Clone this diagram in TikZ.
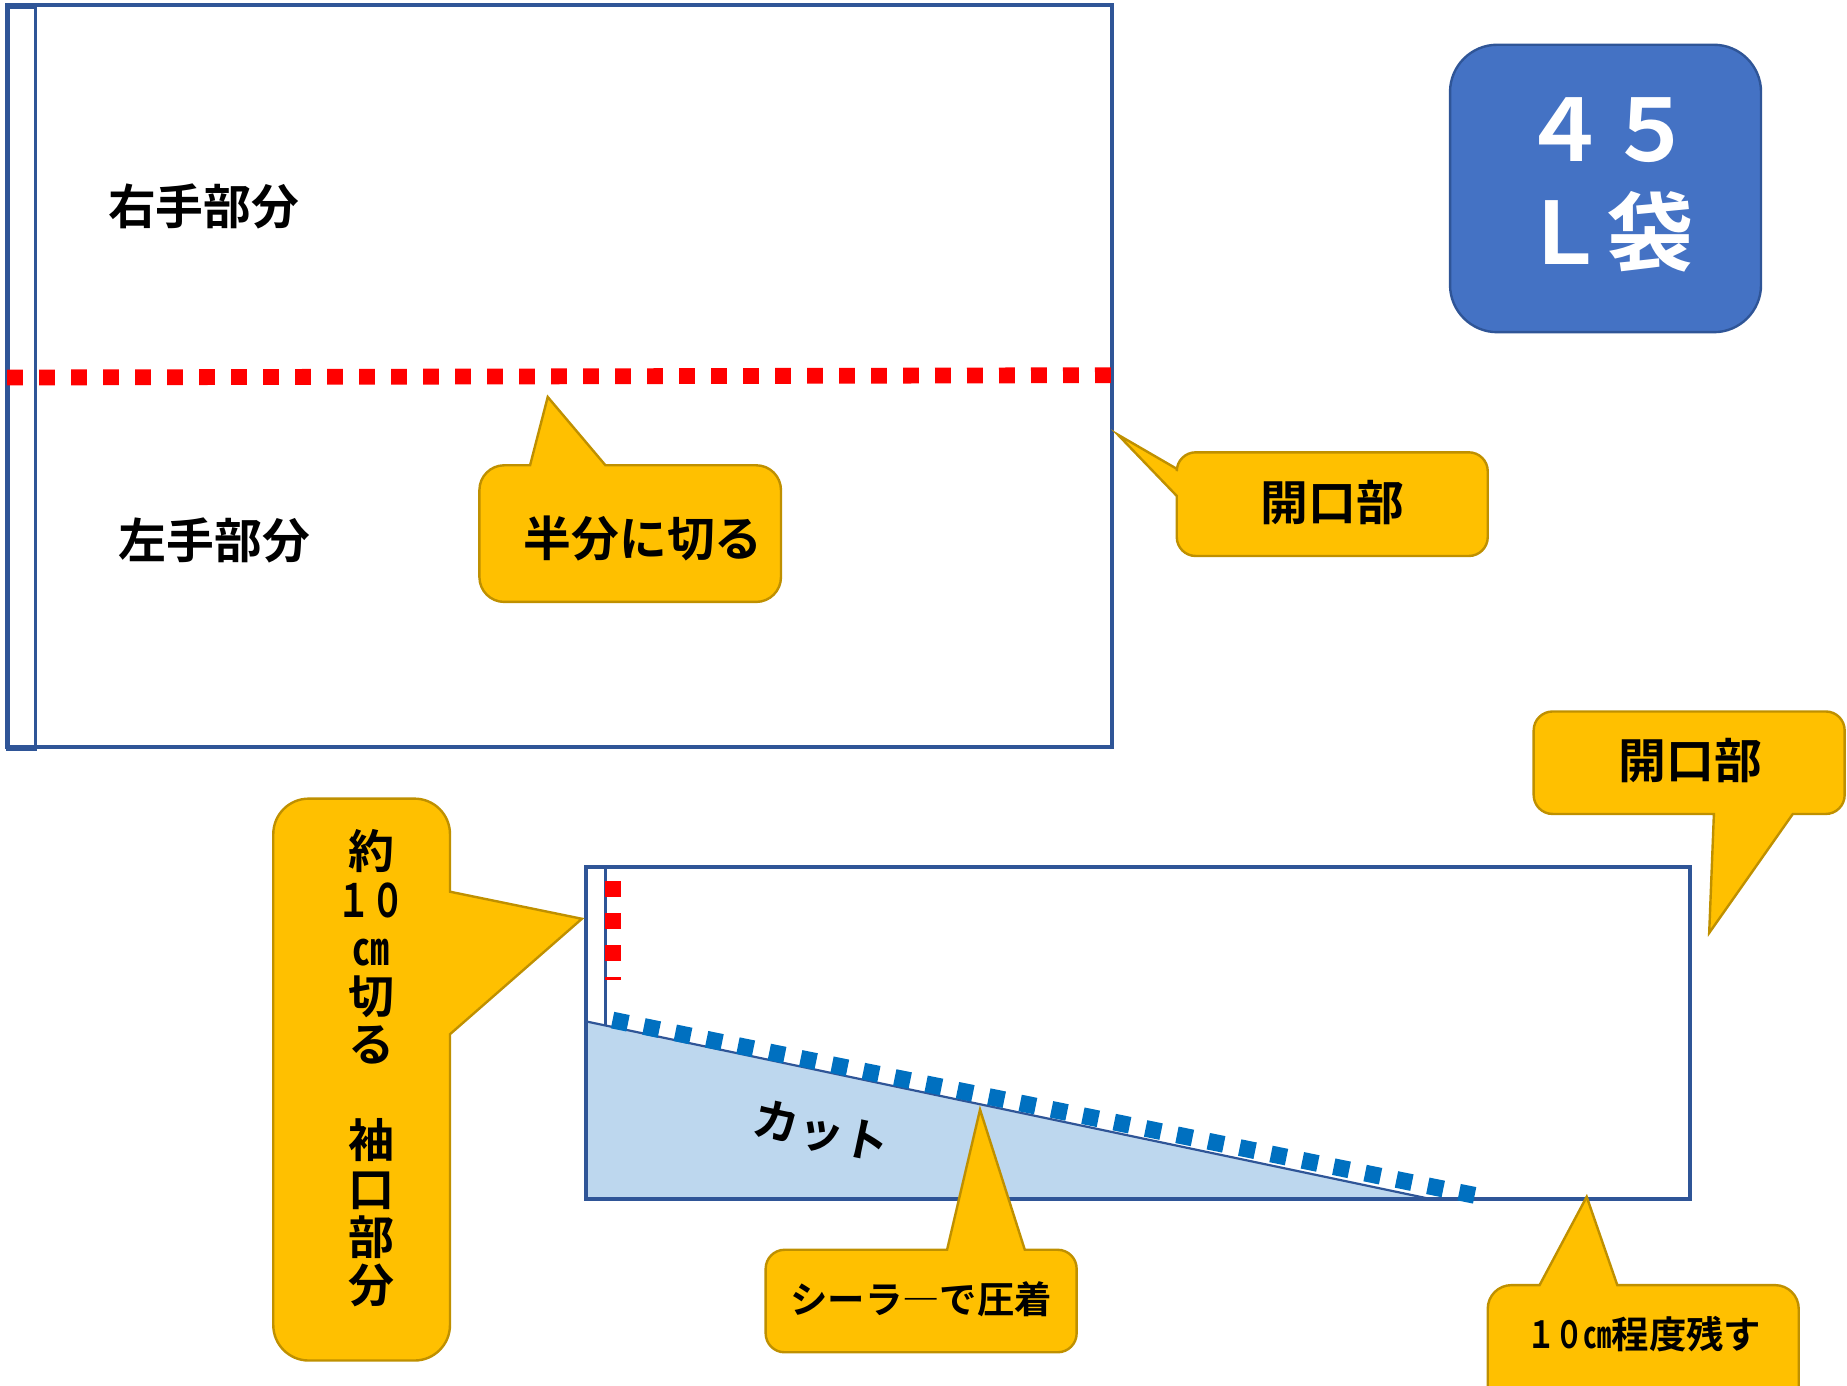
\documentclass[tikz,border=0pt]{standalone}
\usepackage{graphicx}
\usepackage{fontspec}
\newfontfamily\cjk{Noto Sans CJK JP}[BoldFont={Noto Sans CJK JP Bold}]
\definecolor{bagline}{HTML}{2F5597}
\definecolor{boxblue}{HTML}{4472C4}
\definecolor{cutfill}{HTML}{BDD7EE}
\definecolor{sealblue}{HTML}{0070C0}
\definecolor{callfill}{HTML}{FFC000}
\definecolor{callline}{HTML}{BF9000}
\tikzset{
  bagedge/.style={draw=bagline,line width=2.2pt},
  thinedge/.style={draw=bagline,line width=1.1pt},
  calloutshape/.style={fill=callfill,draw=callline,line width=1.2pt,line join=miter},
  cutdash/.style={draw=red,line width=7.9pt,dash pattern=on 7.9pt off 8.1pt},
  sealdash/.style={draw=sealblue,line width=8.4pt,dash pattern=on 7.9pt off 8.1pt},
  lab/.style={inner sep=0pt,font=\cjk\bfseries\fontsize{23.9}{28}\selectfont,text=black},
  smalllab/.style={inner sep=0pt,font=\cjk\bfseries\fontsize{18.7}{22}\selectfont,text=black},
}
% x1 y1 x2 y2 r top right bottom left (each side: extra path pieces, clockwise)
\newcommand\bubble[9]{%
  \draw[calloutshape] ({#1+#5},#2) #6 -- ({#3-#5},#2)
    .. controls ({#3-.45*#5},#2) and (#3,{#2+.45*#5}) .. (#3,{#2+#5}) #7 -- (#3,{#4-#5})
    .. controls (#3,{#4-.45*#5}) and ({#3-.45*#5},#4) .. ({#3-#5},#4) #8 -- ({#1+#5},#4)
    .. controls ({#1+.45*#5},#4) and (#1,{#4-.45*#5}) .. (#1,{#4-#5}) #9 -- (#1,{#2+#5})
    .. controls (#1,{#2+.45*#5}) and ({#1+.45*#5},#2) .. ({#1+#5},#2) -- cycle;}
\begin{document}
\begin{tikzpicture}[x=0.589pt,y=-0.589pt]
\useasboundingbox (0,0) rectangle (1568,1176);
% top bag
\draw[bagedge] (6,4.5) rectangle (944,634);
\draw[bagedge,line width=1.8pt] (7,6) rectangle (30,636);
\draw[cutdash] (6,320.5) -- (944,318.5);
\node[lab] (right) at (173,175) {右手部分};
\node[lab] (left) at (182,459) {左手部分};
\bubble{407}{395}{663}{511}{21}{-- (450,395) -- (465,337) -- (514,395)}{}{}{}
\node[lab] (half) at (546,457) {半分に切る};
\bubble{999}{384}{1263}{472}{16}{}{}{}{-- (999,421) -- (949,369) -- (999,398)}
\node[lab] (open1) at (1131,427) {開口部};
% badge
\draw[fill=boxblue,draw=bagline,line width=1.2pt] (1271,38) -- (1455,38)
  .. controls (1477,38) and (1495,56) .. (1495,78) -- (1495,242)
  .. controls (1495,264) and (1477,282) .. (1455,282) -- (1271,282)
  .. controls (1249,282) and (1231,264) .. (1231,242) -- (1231,78)
  .. controls (1231,56) and (1249,38) .. (1271,38) -- cycle;
\node[inner sep=0pt,text=white,font=\cjk\bfseries\fontsize{43}{51.5}\selectfont,align=center] (badge) at (1365,157) {４５\\Ｌ袋};
% lower bag
\draw[fill=cutfill,draw=none] (497,867) -- (1215,1018) -- (497,1018) -- cycle;
\draw[thinedge] (497,867) -- (1215,1018);
\draw[bagedge] (497.5,736) rectangle (1434.5,1018);
\draw[thinedge] (514,736) -- (514,871);
\draw[cutdash] (520.5,748) -- (520.5,832);
\draw[sealdash] (520,866) -- (1253,1015);
\node[lab,rotate=-12,font=\cjk\bfseries\fontsize{23}{26}\selectfont] (cut) at (697,961) {カット};
% callouts of lower bag
\bubble{232}{678}{382}{1155}{30}{}{-- (382,757) -- (494,780) -- (382,878)}{}{}
\node[lab,align=center,font=\cjk\bfseries\fontsize{23}{24.1}\selectfont] (sleeve) at (315,907) {約\\\scalebox{0.72}[1]{１０}\\\scalebox{0.8}[1]{㎝}\\切\\る\\[24pt]袖\\口\\部\\分};
\bubble{1302}{604}{1566}{691}{16}{}{}{-- (1522,691) -- (1451,792) -- (1455,691)}{}
\node[lab] (open2) at (1435,646) {開口部};
\bubble{650}{1061}{914}{1148}{16}{-- (804,1061) -- (832,942) -- (870,1061)}{}{}{}
\node[smalllab] (seal) at (782,1103) {シーラ―で圧着};
\bubble{1263}{1091}{1527}{1200}{20}{-- (1307,1091) -- (1347,1016) -- (1373,1091)}{}{}{}
\node[smalllab] (leave) at (1396,1133) {\scalebox{0.75}[1]{１０㎝}程度残す};
\end{tikzpicture}
\end{document}
